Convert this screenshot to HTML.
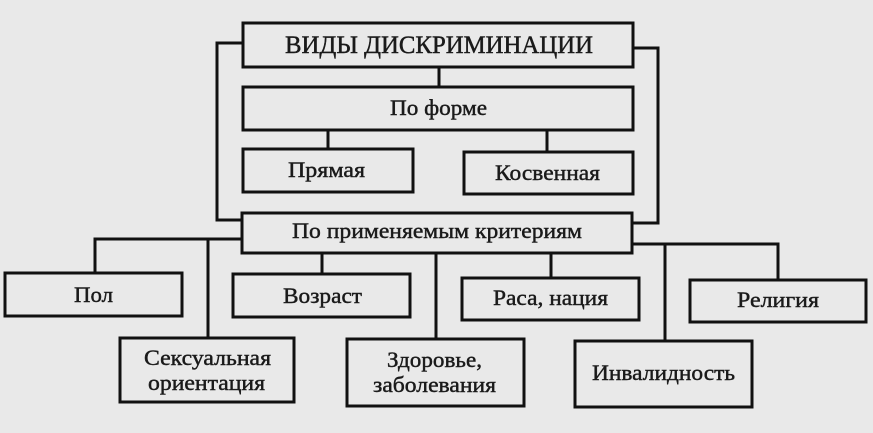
<!DOCTYPE html>
<html><head><meta charset="utf-8"><style>
html,body{margin:0;padding:0;background:#e9e9e9;}
svg{display:block;}
text{font-family:"Liberation Serif","DejaVu Serif",serif;fill:#1a1a1a;stroke:#1a1a1a;stroke-width:0.45;}
</style></head><body>
<svg width="873" height="433" viewBox="0 0 873 433" xmlns="http://www.w3.org/2000/svg">
<rect x="0" y="0" width="873" height="433" fill="#e9e9e9"/>
<g fill="none" stroke="#111" stroke-width="3">
<rect x="243" y="23" width="390" height="44"/>
<rect x="243" y="87" width="390" height="43"/>
<rect x="243" y="149" width="170" height="43"/>
<rect x="464" y="152" width="169" height="42"/>
<rect x="242" y="213" width="390" height="40"/>
<rect x="5" y="273" width="177" height="43"/>
<rect x="233" y="274" width="177" height="43"/>
<rect x="120" y="338" width="174" height="64"/>
<rect x="347" y="339" width="177" height="67"/>
<rect x="462" y="278" width="177" height="42"/>
<rect x="690" y="280" width="176" height="42"/>
<rect x="575" y="341" width="177" height="66"/>
<line x1="439" y1="67" x2="439" y2="87"/>
<line x1="328" y1="130" x2="328" y2="149"/>
<line x1="547" y1="130" x2="547" y2="152"/>
<polyline points="243,43 217,43 217,220 242,220"/>
<polyline points="633,48 658,48 658,223 632,223"/>
<polyline points="242,239 95,239 95,273"/>
<line x1="208" y1="239" x2="208" y2="338"/>
<line x1="322" y1="253" x2="322" y2="274"/>
<line x1="436" y1="253" x2="436" y2="339"/>
<line x1="551" y1="253" x2="551" y2="278"/>
<polyline points="632,244 778,244 778,280"/>
<line x1="665" y1="244" x2="665" y2="341"/>
</g>
<text x="285" y="53" font-size="25" textLength="308" lengthAdjust="spacingAndGlyphs">ВИДЫ ДИСКРИМИНАЦИИ</text>
<text x="390" y="115" font-size="22.5" textLength="97" lengthAdjust="spacingAndGlyphs">По форме</text>
<text x="288" y="177" font-size="22.5" textLength="77" lengthAdjust="spacingAndGlyphs">Прямая</text>
<text x="495" y="180" font-size="22.5" textLength="105" lengthAdjust="spacingAndGlyphs">Косвенная</text>
<text x="292" y="238" font-size="22.5" textLength="290" lengthAdjust="spacingAndGlyphs">По применяемым критериям</text>
<text x="74" y="302" font-size="22.5" textLength="39" lengthAdjust="spacingAndGlyphs">Пол</text>
<text x="283" y="303" font-size="22.5" textLength="79" lengthAdjust="spacingAndGlyphs">Возраст</text>
<text x="144" y="365" font-size="22.5" textLength="127" lengthAdjust="spacingAndGlyphs">Сексуальная</text>
<text x="148" y="390" font-size="22.5" textLength="117" lengthAdjust="spacingAndGlyphs">ориентация</text>
<text x="387" y="367" font-size="22.5" textLength="95" lengthAdjust="spacingAndGlyphs">Здоровье,</text>
<text x="373" y="392" font-size="22.5" textLength="123" lengthAdjust="spacingAndGlyphs">заболевания</text>
<text x="493" y="305" font-size="22.5" textLength="115" lengthAdjust="spacingAndGlyphs">Раса, нация</text>
<text x="737" y="307" font-size="22.5" textLength="82" lengthAdjust="spacingAndGlyphs">Религия</text>
<text x="592" y="380" font-size="22.5" textLength="143" lengthAdjust="spacingAndGlyphs">Инвалидность</text>
</svg>
</body></html>
